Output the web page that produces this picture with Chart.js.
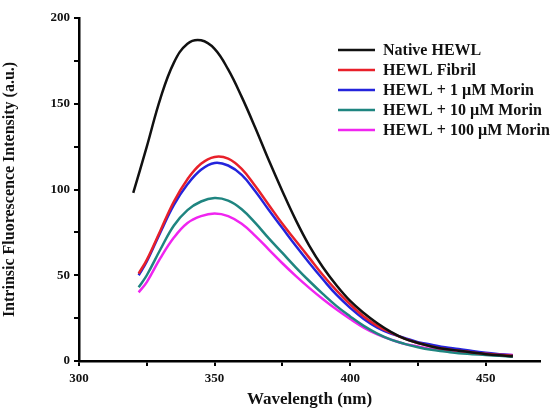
<!DOCTYPE html>
<html>
<head>
<meta charset="utf-8">
<script src="https://cdn.jsdelivr.net/npm/chart.js@4.4.1/dist/chart.umd.min.js"></script>
<style>
  html, body { margin: 0; padding: 0; background: #fff; }
  #wrap { width: 550px; height: 410px; }
</style>
</head>
<body>
<div id="wrap"><canvas id="chart" width="550" height="410"></canvas></div>
<script>
// wavelengths (nm)
const wlNative = [320, 325, 330, 335, 340, 345, 350, 355, 360, 365, 370, 375, 380, 385, 390, 395, 400, 405, 410, 415, 420, 425, 430, 435, 440, 445, 450, 455, 460];
const wlOther  = [322, 325, 330, 335, 340, 345, 350, 355, 360, 365, 370, 375, 380, 385, 390, 395, 400, 405, 410, 415, 420, 425, 430, 435, 440, 445, 450, 455, 460];

// intensities (a.u.)
const nativeHEWL = [98, 125, 153, 174, 185, 187, 182, 170, 154, 136, 117, 99, 82, 67, 54.5, 44, 35, 28, 22, 17, 13, 10.5, 8.5, 7, 6, 5, 4, 3.3, 2.8];
const hewlFibril = [51, 59, 76, 93, 106, 115, 119, 118, 112, 102, 91, 80, 70, 60, 50, 41, 33, 26, 20.5, 16.5, 13, 10.5, 8.5, 7, 6, 5, 4.2, 3.6, 3];
const morin1     = [50, 58, 75, 91, 103, 111.5, 115.5, 114, 108.5, 99, 88, 77.5, 67, 57, 47.5, 38.5, 31, 24.5, 19.5, 16, 13.5, 11, 9.5, 8, 7, 5.8, 4.8, 4, 3.3];
const morin10    = [43, 50, 65, 79, 88, 93, 95, 93.5, 88.5, 80.5, 71.5, 63, 54.5, 46.5, 39, 32, 26, 20.5, 16, 12.5, 10, 8, 6.5, 5.5, 4.5, 4, 3.5, 3, 2.5];
const morin100   = [40, 46, 60, 72, 80.5, 84.5, 86, 84.5, 80, 73, 65, 57, 49.5, 42.5, 36, 30, 24.5, 19.5, 15.5, 12.5, 10, 8.5, 7, 6, 5.3, 4.7, 4.2, 3.8, 3.5];

const seriesLabels = ['Native HEWL', 'HEWL Fibril', 'HEWL + 1 \u00b5M Morin', 'HEWL + 10 \u00b5M Morin', 'HEWL + 100 \u00b5M Morin'];
const seriesColors = ['#111111', '#e8202a', '#2424dc', '#1f8580', '#f025f0'];

const toPoints = (xs, ys) => xs.map((x, i) => ({ x: x, y: ys[i] }));
const seriesData = [
    toPoints(wlNative, nativeHEWL),
    toPoints(wlOther, hewlFibril),
    toPoints(wlOther, morin1),
    toPoints(wlOther, morin10),
    toPoints(wlOther, morin100)
];

const serif = '"Liberation Serif", "Times New Roman", serif';

// legend drawn inside the plot area, top right
const insideLegend = {
    id: 'insideLegend',
    afterDraw(chart) {
        const ctx = chart.ctx;
        const x0 = 338, y0 = 50, rowH = 20, lineLen = 37;
        ctx.save();
        ctx.font = 'bold 16px ' + serif;
        ctx.textBaseline = 'middle';
        ctx.textAlign = 'left';
        chart.data.datasets.forEach((ds, i) => {
            const y = y0 + i * rowH;
            ctx.strokeStyle = ds.borderColor;
            ctx.lineWidth = 2.5;
            ctx.beginPath();
            ctx.moveTo(x0, y);
            ctx.lineTo(x0 + lineLen, y);
            ctx.stroke();
            ctx.fillStyle = '#111';
            ctx.fillText(ds.label, x0 + lineLen + 8, y + 1);
        });
        ctx.restore();
    }
};

const keepQuarterSteps = scale => {
    scale.ticks = scale.ticks.filter(t => t.value % 25 === 0);
};
const majorOnly = v => (v % 50 === 0 ? v : '');

new Chart(document.getElementById('chart').getContext('2d'), {
    type: 'line',
    data: {
        datasets: seriesData.map((pts, i) => ({
            label: seriesLabels[i],
            data: pts,
            borderColor: seriesColors[i],
            backgroundColor: seriesColors[i],
            borderWidth: 2.5,
            pointRadius: 0,
            fill: false,
            tension: 0.4
        }))
    },
    options: {
        responsive: false,
        animation: false,
        layout: { padding: { top: 18, right: 10, left: 0, bottom: 0 } },
        plugins: {
            legend: { display: false },
            tooltip: { enabled: false }
        },
        scales: {
            x: {
                type: 'linear',
                min: 300,
                max: 470,
                afterBuildTicks: keepQuarterSteps,
                afterFit: s => { s.height = 49; },
                ticks: {
                    stepSize: 25,
                    autoSkip: false,
                    maxRotation: 0,
                    padding: 5,
                    color: '#111',
                    font: { family: serif, size: 13, weight: 'bold' },
                    callback: majorOnly
                },
                grid: { display: true, drawOnChartArea: false, drawTicks: true, tickLength: 5, color: '#000', lineWidth: 2 },
                border: { display: true, color: '#000', width: 2.5 },
                title: {
                    display: true,
                    text: 'Wavelength (nm)',
                    color: '#111',
                    padding: { top: 5, bottom: 0 },
                    font: { family: serif, size: 17, weight: 'bold' }
                }
            },
            y: {
                min: 0,
                max: 200,
                afterFit: s => { s.width = 79; },
                ticks: {
                    stepSize: 25,
                    autoSkip: false,
                    padding: 4,
                    color: '#111',
                    font: { family: serif, size: 13, weight: 'bold' },
                    callback: majorOnly
                },
                grid: { display: true, drawOnChartArea: false, drawTicks: true, tickLength: 5, color: '#000', lineWidth: 2 },
                border: { display: true, color: '#000', width: 2.5 },
                title: {
                    display: true,
                    text: 'Intrinsic Fluorescence Intensity (a.u.)',
                    color: '#111',
                    padding: { top: 0, bottom: 2 },
                    font: { family: serif, size: 16, weight: 'bold' }
                }
            }
        }
    },
    plugins: [insideLegend]
});
</script>
</body>
</html>
